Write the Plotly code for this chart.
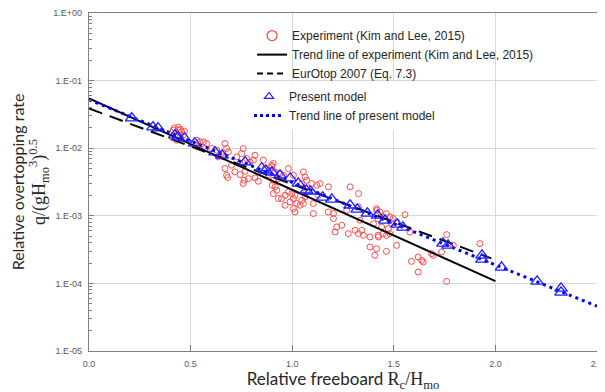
import plotly.graph_objects as go

# ---- Experiment (Kim and Lee, 2015): Rc/Hm0 and log10 of relative overtopping rate
exp_x = [0.415, 0.440, 0.456, 0.464, 0.448, 0.407, 0.431, 0.42, 0.44, 0.45, 0.47,
         0.505, 0.530, 0.546, 0.563, 0.579, 0.538, 0.571, 0.604, 0.628, 0.669, 0.677,
         0.686, 0.653, 0.636, 0.661, 0.759, 0.751, 0.727, 0.776, 0.792, 0.743, 0.702,
         0.669, 0.718, 0.677, 0.682, 0.743, 0.768, 0.809, 0.817, 0.858, 0.866, 0.899,
         0.912, 0.883, 0.817, 0.833, 0.784, 0.764, 0.759, 0.907, 0.902,
         0.907, 0.899, 0.916, 0.940, 0.957, 0.932, 0.916, 0.924, 0.907, 0.932, 0.948,
         0.965, 0.981, 0.998, 1.014, 1.006, 0.989, 0.965, 1.022, 1.006, 1.014, 1.039,
         1.047, 1.055, 1.063, 1.071, 0.981, 1.006, 1.055, 1.063, 1.071, 1.096, 1.047,
         1.121, 1.137, 1.178, 1.129, 1.104, 1.104, 1.178, 1.203, 1.203, 1.219, 1.211,
         1.244, 1.276, 1.268, 1.285, 1.326, 1.326, 1.334, 1.309, 1.326, 1.342, 1.350,
         1.383, 1.383, 1.424, 1.416, 1.400,
         1.415, 1.432, 1.423, 1.448, 1.464, 1.481, 1.497, 1.514, 1.555, 1.489, 1.473,
         1.440, 1.423, 1.448, 1.464, 1.481, 1.415, 1.407, 1.464, 1.514, 1.579, 1.587,
         1.620, 1.637, 1.645, 1.620, 1.686, 1.694, 1.735, 1.760, 1.793, 1.760, 1.924]
exp_logq = [-1.733, -1.733, -1.758, -1.807, -1.832, -1.832, -1.881, -1.70, -1.69, -1.72, -1.75,
            -1.931, -1.881, -1.906, -1.906, -1.931, -1.980, -2.005, -2.005, -2.030, -1.931, -2.005,
            -2.054, -2.079, -2.128, -2.128, -2.005, -2.079, -2.128, -2.153, -2.202, -2.227, -2.252,
            -2.301, -2.350, -2.400, -2.434, -2.390, -2.341, -2.178, -2.104, -2.178, -2.301, -2.252,
            -2.360, -2.390, -2.439, -2.489, -2.449, -2.474, -2.523, -2.474, -2.548,
            -2.227, -2.276, -2.350, -2.375, -2.400, -2.449, -2.572, -2.622, -2.671, -2.745, -2.745,
            -2.696, -2.646, -2.671, -2.696, -2.745, -2.795, -2.844, -2.819, -2.893, -2.943, -2.844,
            -2.770, -2.819, -2.720, -2.646, -2.301, -2.400, -2.350, -2.424, -2.474, -2.523, -2.523,
            -2.548, -2.523, -2.572, -2.696, -2.819, -2.967, -2.943, -2.967, -3.041, -3.165, -3.239,
            -3.140, -3.264, -2.918, -2.572, -2.671, -2.869, -3.066, -3.214, -3.264, -3.214, -3.288,
            -3.313, -3.461, -3.313, -2.918, -3.116,
            -2.894, -2.943, -3.042, -3.017, -2.968, -3.017, -3.042, -3.091, -2.983, -3.116, -3.190,
            -3.165, -3.289, -3.264, -3.289, -3.264, -3.486, -3.585, -3.526, -3.437, -3.240, -3.674,
            -3.610, -3.659, -3.684, -3.832, -3.560, -3.585, -3.536, -3.279, -3.437, -3.970, -3.412]
exp_q = [10 ** v for v in exp_logq]

# ---- Present model
mod_x = [0.21, 0.315, 0.34, 0.423, 0.438, 0.47, 0.52, 0.62, 0.655, 0.768, 0.85, 0.87,
         0.90, 0.94, 0.99, 1.03, 1.07, 1.09, 1.15, 1.195, 1.285, 1.32, 1.37, 1.42,
         1.457, 1.516, 1.545, 1.742, 1.767, 1.934, 1.934, 2.03, 2.205, 2.323, 2.323]
mod_logq = [-1.556, -1.689, -1.704, -1.807, -1.837, -1.852, -1.926, -2.059, -2.104, -2.207,
            -2.296, -2.326, -2.356, -2.40, -2.444, -2.519, -2.622, -2.637, -2.726, -2.756,
            -2.844, -2.904, -2.963, -2.993, -3.067, -3.126, -3.170, -3.407, -3.437, -3.585,
            -3.644, -3.763, -3.970, -4.074, -4.133]
mod_q = [10 ** v for v in mod_logq]

# ---- Trend lines (end points)
trend_exp_x = [0.0, 2.0]
trend_exp_q = [0.0545, 1.08e-4]
eurotop_x = [0.0, 1.98]
eurotop_q = [0.0387, 2.35e-4]
trend_mod_x = [0.0, 2.5]
trend_mod_q = [0.052, 4.6e-5]

# ---- Axis ticks
y_tickvals = [1e-5, 1e-4, 1e-3, 1e-2, 1e-1, 1]
y_ticktext = ["1.E-05", "1.E-04", "1.E-03", "1.E-02", "1.E-01", "1.E+00"]
y_minor_mult = [2, 3, 4, 5, 6, 7, 8, 9]
x_tickvals = [0.0, 0.5, 1.0, 1.5, 2.0, 2.5]
x_ticktext = ["0.0", "0.5", "1.0", "1.5", "2.0", "2.5"]
y_minor_vals = [m * d for d in y_tickvals[:-1] for m in y_minor_mult]

RED = "#ff4a4a"
BLUE = "#1f1fff"

fig = go.Figure()

fig.add_trace(go.Scatter(x=exp_x, y=exp_q, mode="markers", showlegend=False,
                         marker=dict(symbol="circle-open", size=6, color=RED,
                                     line=dict(width=1, color=RED))))
fig.add_trace(go.Scatter(x=trend_exp_x, y=trend_exp_q, mode="lines", showlegend=False,
                         line=dict(color="black", width=2)))
fig.add_trace(go.Scatter(x=eurotop_x, y=eurotop_q, mode="lines", showlegend=False,
                         line=dict(color="black", width=2, dash="14px,8px")))
fig.add_trace(go.Scatter(x=trend_mod_x, y=trend_mod_q, mode="lines", showlegend=False,
                         line=dict(color="#0000ff", width=3, dash="3px,4px")))
fig.add_trace(go.Scatter(x=mod_x, y=mod_q, mode="markers", showlegend=False,
                         marker=dict(symbol="triangle-up-open", size=11, color=BLUE,
                                     line=dict(width=1.3, color=BLUE))))

# legend entries
fig.add_trace(go.Scatter(x=[None], y=[None], mode="markers", name="Experiment (Kim and Lee, 2015)",
                         legend="legend",
                         marker=dict(symbol="circle-open", size=10, color=RED, line=dict(width=1.3, color=RED))))
fig.add_trace(go.Scatter(x=[None], y=[None], mode="lines", name="Trend line of experiment (Kim and Lee, 2015)",
                         legend="legend", line=dict(color="black", width=2)))
fig.add_trace(go.Scatter(x=[None], y=[None], mode="lines", name="EurOtop 2007 (Eq. 7.3)",
                         legend="legend", line=dict(color="black", width=2, dash="6px,4px")))
fig.add_trace(go.Scatter(x=[None], y=[None], mode="markers", name="Present model",
                         legend="legend2",
                         marker=dict(symbol="triangle-up-open", size=8, color=BLUE, line=dict(width=1.2, color=BLUE))))
fig.add_trace(go.Scatter(x=[None], y=[None], mode="lines", name="Trend line of present model",
                         legend="legend2", line=dict(color="#0000ff", width=3, dash="3px,3px")))

legend_font = dict(family="Liberation Sans, Arial, sans-serif", size=12, color="#262626")

# the page body adds an 8 px offset, so the figure is sized to fit the 605x392 window
fig.update_layout(
    width=597, height=384,
    margin=dict(l=81, r=8, t=5, b=41),
    paper_bgcolor="white", plot_bgcolor="white",
    legend=dict(x=0.321, y=0.976, xanchor="left", yanchor="top", bgcolor="rgba(0,0,0,0)",
                font=legend_font, itemwidth=30, tracegroupgap=0),
    legend2=dict(x=0.315, y=0.796, xanchor="left", yanchor="top", bgcolor="white",
                 font=legend_font, itemwidth=30, tracegroupgap=0),
    xaxis=dict(range=[0, 2.5], tickmode="array", tickvals=x_tickvals, ticktext=x_ticktext,
               automargin=False,
               showgrid=True, gridcolor="#d9d9d9", gridwidth=1,
               ticks="inside", ticklen=6, tickcolor="#808080", ticklabelstandoff=4,
               showline=True, linecolor="#808080", linewidth=1.3, mirror=True,
               zeroline=False,
               tickfont=dict(family="Liberation Sans, Arial, sans-serif", size=9, color="#595959"),
               title=dict(text="Relative freeboard <span style='font-family:Liberation Serif;font-size:18px'>R<sub>c</sub>/H<sub>mo</sub></span>",
                          font=dict(family="Lato, sans-serif", size=17, color="#262626"),
                          standoff=6)),
    yaxis=dict(type="log", range=[-5, 0], tickmode="array", tickvals=y_tickvals, ticktext=y_ticktext,
               automargin=False,
               showgrid=True, gridcolor="#d9d9d9", gridwidth=1,
               ticks="inside", ticklen=5, tickcolor="#808080", ticklabelstandoff=4,
               minor=dict(tickmode="array", tickvals=y_minor_vals, ticks="inside", ticklen=3,
                          tickcolor="#808080", showgrid=False),
               showline=True, linecolor="#808080", linewidth=1.3, mirror=True,
               zeroline=False,
               tickfont=dict(family="Liberation Sans, Arial, sans-serif", size=9, color="#595959"),
               title=dict(text="Relative overtopping rate<br><span style='font-family:Liberation Serif;font-size:18px'>q/(gH<sub>mo</sub><sup>3</sup>)<sup>0.5</sup></span>",
                          font=dict(family="Lato, sans-serif", size=16, color="#262626"),
                          standoff=4)),
)

fig.write_html("out.html")
